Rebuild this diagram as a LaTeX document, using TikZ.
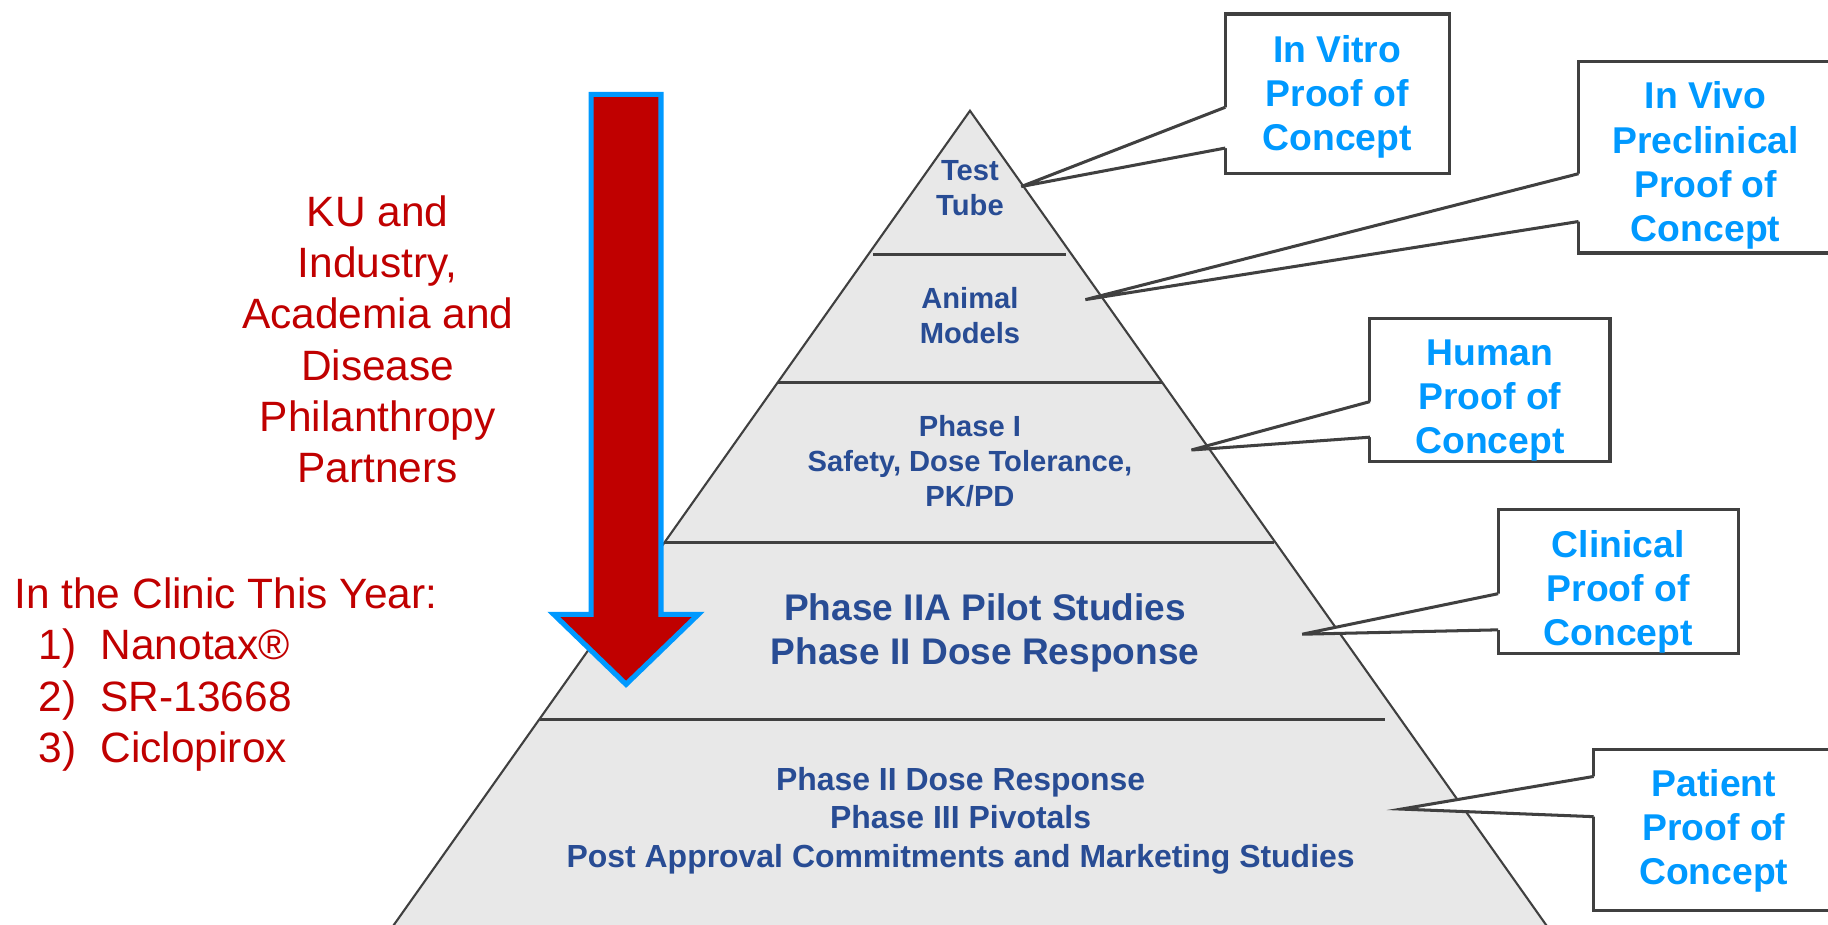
\documentclass[tikz,border=0pt]{standalone}
\usepackage{fontspec}
\setmainfont{Liberation Sans}
\usepackage{xcolor}
\usepackage{tikz}
\usetikzlibrary{calc}
\definecolor{tierblue}{RGB}{40,76,148}
\definecolor{conceptblue}{RGB}{0,153,255}
\definecolor{kured}{RGB}{192,0,0}
\definecolor{tiergray}{RGB}{232,232,232}
\definecolor{edgegray}{RGB}{64,64,64}

\begin{document}
\begin{tikzpicture}[x=0.5pt, y=-0.5pt,
  tier/.style={font=\bfseries\fontsize{12.5}{15}\selectfont, text=tierblue, align=center, inner sep=0},
  callbox/.style={draw=edgegray, line width=1.3pt, fill=white, inner sep=0, outer sep=0},
  concept/.style={font=\bfseries\fontsize{16}{19}\selectfont, text=conceptblue, align=center, inner sep=0},
  pointer/.style={draw=edgegray, line width=1.3pt, line join=miter},
  partner/.style={font=\fontsize{18.2}{22}\selectfont, text=kured, align=center, inner sep=0}]
\useasboundingbox (0,0) rectangle (1568,793);
\clip (0,0) rectangle (1568,793);
%pyramid
\draw[edgegray, line width=0.9pt, fill=tiergray] (832,95) -- (1333,803) -- (331,803) -- cycle;
\foreach \y/\l/\r in {218/749/914, 328/667/997, 465/570/1093, 617/463/1188}
  \draw[edgegray, line width=1.3pt] (\l,\y) -- (\r,\y);
\node[tier] (tube) at (832,161) {Test\\Tube};
\node[tier] (animal) at (832,271) {Animal\\Models};
\node[tier] (phase1) at (832,396) {Phase I\\Safety, Dose Tolerance,\\PK/PD};
\node[tier, font=\bfseries\fontsize{15.9}{19}\selectfont] (phase2) at (845,543) {Phase IIA Pilot Studies\\Phase II Dose Response};
\node[tier, font=\bfseries\fontsize{13.7}{16.5}\selectfont] (phase3) at (824,704) {Phase II Dose Response\\Phase III Pivotals\\Post Approval Commitments and Marketing Studies};
%arrow
\draw[fill=kured, draw=conceptblue, line width=2.2pt, line join=miter] (507,81) -- (567,81) -- (567,527) -- (599,527) -- (537,587) -- (475,527) -- (507,527) -- cycle;
\node[partner] (partners) at (324,291) {KU and\\Industry,\\Academia and\\Disease\\Philanthropy\\Partners};
\node[partner, align=left, anchor=west] (clinic) at (12,578.5) {In the Clinic This Year:\\
  \hspace*{10.5pt}\makebox[26.5pt][l]{1)}Nanotax®\\
  \hspace*{10.5pt}\makebox[26.5pt][l]{2)}SR-13668\\
  \hspace*{10.5pt}\makebox[26.5pt][l]{3)}Ciclopirox};
%callouts
\node[callbox, minimum width=96pt, minimum height=68.5pt] (vitro) at (1147,80.5) {};
\node[callbox, minimum width=109pt, minimum height=82pt] (vivo) at (1463,135) {};
\node[callbox, minimum width=103pt, minimum height=61.5pt] (human) at (1278,334.5) {};
\node[callbox, minimum width=103pt, minimum height=61.75pt] (clinical) at (1388,499) {};
\node[callbox, minimum width=103pt, minimum height=69pt] (patient) at (1470,712) {};
\node[concept] (vitro text) at (1147,83) {In Vitro\\Proof of\\Concept};
\node[concept] (vivo text) at (1463,142) {In Vivo\\Preclinical\\Proof of\\Concept};
\node[concept] (human text) at (1278,343.5) {Human\\Proof of\\Concept};
\node[concept] (clinical text) at (1388,507.5) {Clinical\\Proof of\\Concept};
\node[concept] (patient text) at (1470,712.5) {Patient\\Proof of\\Concept};
\coordinate (vitro tip) at (876,160);
\coordinate (vivo tip) at (931,257);
\coordinate (human tip) at (1022,386);
\coordinate (clinical tip) at (1117,544);
\coordinate (patient tip) at (1202,694);
\foreach \b/\p/\q in {vitro/80/115, vivo/96/137, human/71.5/102, clinical/72/103, patient/23/57.5} {
  \fill[white] ($(\b.north west)+(3,\p)$) -- ($(\b.north west)+(0,\p)$) -- (\b\space tip) -- ($(\b.north west)+(0,\q)$) -- ($(\b.north west)+(3,\q)$) -- cycle;
  \draw[pointer] ($(\b.north west)+(0,\p)$) -- (\b\space tip) -- ($(\b.north west)+(0,\q)$);
}
\end{tikzpicture}
\end{document}
